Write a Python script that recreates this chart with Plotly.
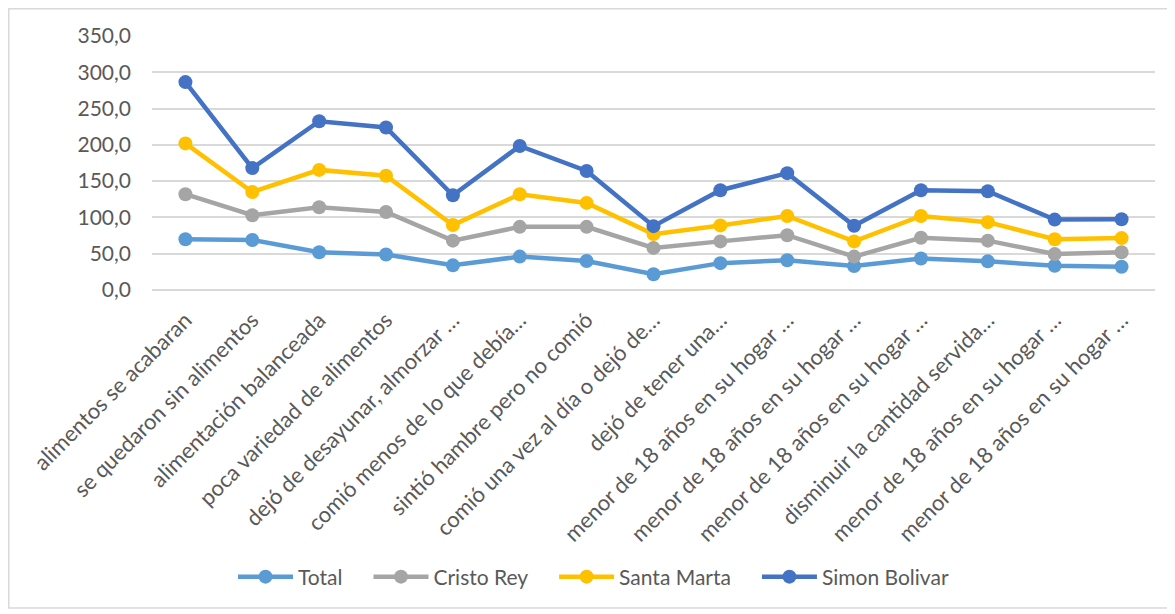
import plotly.graph_objects as go

categories = [
    "alimentos se acabaran",
    "se quedaron sin alimentos",
    "alimentación balanceada",
    "poca variedad de alimentos",
    "dejó de desayunar, almorzar …",
    "comió menos de lo que debía…",
    "sintió hambre pero no comió",
    "comió una vez al día o dejó de…",
    "dejó de tener una…",
    "menor de 18 años en su hogar …",
    "menor de 18 años en su hogar …",
    "menor de 18 años en su hogar …",
    "disminuir la cantidad servida…",
    "menor de 18 años en su hogar …",
    "menor de 18 años en su hogar …",
]

total = [70, 69, 52, 49, 34, 46, 40, 21.6, 37, 41, 33, 43.5, 39.5, 33.5, 32]
cristo_rey = [132, 103, 114, 107.5, 68, 87, 87, 58, 67, 75.5, 46, 72, 68, 49.5, 52]
santa_marta = [202, 135, 165.5, 157.5, 89.5, 132, 120, 77, 89, 102, 67, 102, 93.5, 70, 71.5]
simon_bolivar = [286.5, 168, 232.5, 224, 130.5, 198.5, 164, 88, 137.5, 161, 88.5, 137.5, 136, 97, 97.5]

series = [
    ("Total", total, "#5B9BD5"),
    ("Cristo Rey", cristo_rey, "#A5A5A5"),
    ("Santa Marta", santa_marta, "#FFC000"),
    ("Simon Bolivar", simon_bolivar, "#4472C4"),
]

xs = list(range(len(categories)))
pad = "\u2002\u2002"

fig = go.Figure()
for name, vals, color in series:
    fig.add_trace(go.Scatter(
        x=xs, y=vals, name=name + pad, mode="lines+markers",
        line=dict(color=color, width=4.5),
        marker=dict(color=color, size=14),
    ))

W, H = 1167, 606
L, T, R, B = 144, 28, 20, 324
PW, PH = W - L - R, H - T - B

font_family = "Lato, 'Open Sans', sans-serif"
fig.update_layout(
    width=W, height=H,
    margin=dict(l=L, r=R, t=T, b=B, autoexpand=False),
    paper_bgcolor="white", plot_bgcolor="white",
    separators=",.",
    font=dict(family=font_family, color="#595959", size=21),
    showlegend=True,
    legend=dict(orientation="h", x=(233 - 8 - L) / PW, xanchor="left", y=(PH - 569 + T) / PH, yanchor="middle",
                font=dict(size=21, color="#595959"), traceorder="normal", itemwidth=55),
    xaxis=dict(
        range=[-0.5, len(categories) - 0.5],
        tickmode="array", tickvals=xs, ticktext=categories,
        tickangle=-45, showgrid=False, zeroline=False, showline=False,
        ticks="", tickfont=dict(size=22, color="#595959"),
        ticklabelstandoff=12,
    ),
    yaxis=dict(
        range=[0, 350], dtick=50, tickformat=".1f",
        showgrid=True, gridcolor="#D9D9D9", gridwidth=1.5,
        zeroline=True, zerolinecolor="#D9D9D9", zerolinewidth=1.5,
        showline=False, ticks="", tickfont=dict(size=21, color="#595959"),
        ticklabelstandoff=20,
    ),
)

# chart-area border
fig.add_shape(type="rect", xref="paper", yref="paper",
              x0=(0.75 - L) / PW, x1=(W - 2 - L) / PW,
              y0=(PH + T - (H - 6)) / PH, y1=(PH + T - 0.75) / PH,
              line=dict(color="#D9D9D9", width=1.5), fillcolor="rgba(0,0,0,0)", layer="below")

fig.write_html("out.html")
